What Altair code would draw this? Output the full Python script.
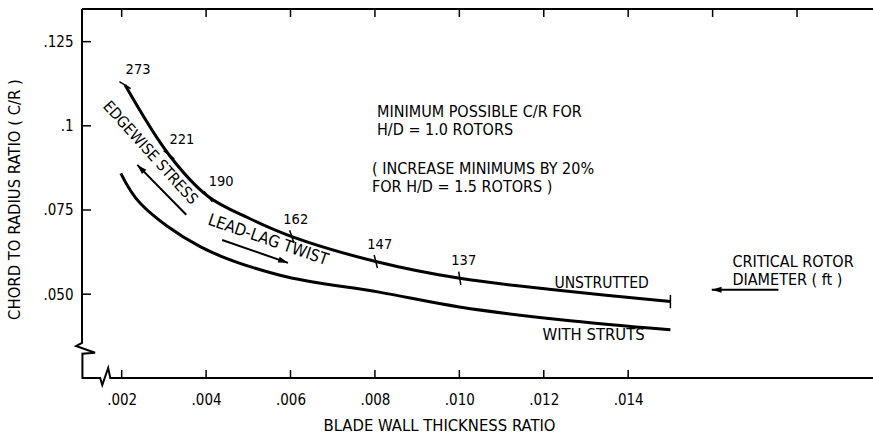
import altair as alt
import numpy as np
import pandas as pd

# ---- data -------------------------------------------------------------
# Minimum chord-to-radius ratio vs blade wall thickness ratio (H/D = 1.0)
unstrutted_x = [0.00208, 0.00312, 0.00405, 0.00504, 0.00603, 0.00802, 0.01001, 0.0124, 0.0150]
unstrutted_y = [0.1121, 0.0914, 0.0790, 0.0724, 0.0671, 0.0597, 0.0547, 0.0511, 0.0478]
struts_x = [0.00198, 0.00244, 0.00386, 0.00575, 0.0081, 0.0100, 0.0124, 0.0150]
struts_y = [0.0859, 0.0770, 0.0641, 0.0556, 0.0506, 0.0462, 0.0424, 0.0394]

# Critical rotor diameter (ft) marked on the unstrutted curve (index into curve)
diameter_labels = ["273", "221", "190", "162", "147", "137", ""]
diameter_index = [0, 1, 2, 4, 5, 6, 8]

x_ticks = [0.002, 0.004, 0.006, 0.008, 0.010, 0.012, 0.014]
x_top_ticks = [0.002, 0.004, 0.006, 0.008, 0.010, 0.012, 0.014, 0.016, 0.018]
y_ticks = [0.125, 0.1, 0.075, 0.050]

# axis frame with break symbols on the left and bottom
frame_x = [0.00106, 0.00106, 0.00092, 0.00137, 0.00107, 0.00107, 0.00149,
           0.00154, 0.00168, 0.00173, 0.0198]
frame_y = [0.1347, 0.0355, 0.0346, 0.0326, 0.0323, 0.0251, 0.0251,
           0.0230, 0.0281, 0.0251, 0.0251]

# ---- layout -----------------------------------------------------------
W, H = 791, 369
X_DOM = [0.00106, 0.0198]
Y_DOM = [0.0251, 0.1347]
FONT = "Liberation Sans Narrow, DejaVu Sans Condensed, Arial Narrow, sans-serif"
INK = "#000000"

xs = alt.Scale(domain=X_DOM, nice=False, zero=False)
ys = alt.Scale(domain=Y_DOM, nice=False, zero=False)

kx = W / (X_DOM[1] - X_DOM[0])
ky = H / (Y_DOM[1] - Y_DOM[0])

curves = pd.DataFrame({
    "x": unstrutted_x + struts_x,
    "y": unstrutted_y + struts_y,
    "series": ["UNSTRUTTED"] * len(unstrutted_x) + ["WITH STRUTS"] * len(struts_x),
    "i": list(range(len(unstrutted_x))) + list(range(len(struts_x))),
})

# tick marks across the unstrutted curve, drawn perpendicular to it
ux = np.array(unstrutted_x)
uy = np.array(unstrutted_y)
sdx = np.gradient(ux) * kx
sdy = -np.gradient(uy) * ky
phi = np.degrees(np.arctan2(-sdy, sdx)) % 360
marks = pd.DataFrame({
    "x": ux[diameter_index],
    "y": uy[diameter_index],
    "label": diameter_labels,
    "angle": phi[diameter_index],
})
marks.loc[marks.index[-1], "angle"] = 0.0

frame = pd.DataFrame({"x": frame_x, "y": frame_y, "o": range(len(frame_x))})

base = alt.Chart(curves)

x_axis = alt.Axis(
    values=x_ticks, grid=False, domain=False, ticks=False,
    labelExpr="substring(format(datum.value, '.3f'), 1)",
    labelFont=FONT, labelFontSize=15, labelColor=INK, labelPadding=14,
    title="BLADE WALL THICKNESS RATIO", titleFont=FONT, titleFontSize=16.5,
    titleFontWeight="normal", titleColor=INK, titleX=357, titleY=47,
    titleAlign="center", titleBaseline="middle",
)
y_axis = alt.Axis(
    values=y_ticks, grid=False, domain=False, ticks=False,
    labelExpr="abs(datum.value - 0.1) < 1e-6 ? '.1' : substring(format(datum.value, '.3f'), 1)",
    labelFont=FONT, labelFontSize=15, labelColor=INK, labelPadding=9,
    title="CHORD TO RADIUS RATIO ( C/R )", titleFont=FONT, titleFontSize=16.5,
    titleFontWeight="normal", titleColor=INK, titleX=-68, titleY=190,
    titleAngle=270, titleAlign="center", titleBaseline="middle",
)

lines = base.mark_line(color=INK, strokeWidth=3, interpolate="catmull-rom").encode(
    x=alt.X("x:Q", scale=xs, axis=x_axis),
    y=alt.Y("y:Q", scale=ys, axis=y_axis),
    detail="series:N",
    order="i:Q",
)

frame_line = alt.Chart(frame).mark_line(color=INK, strokeWidth=2).encode(
    x=alt.X("x:Q", scale=xs), y=alt.Y("y:Q", scale=ys), order="o:Q"
)
top_line = alt.Chart(pd.DataFrame({"a": [0]})).mark_rule(color=INK, strokeWidth=2).encode(
    x=alt.value(0), x2=alt.value(W), y=alt.value(0)
)
top_ticks = alt.Chart(pd.DataFrame({"x": x_top_ticks})).mark_rule(color=INK, strokeWidth=1.5).encode(
    x=alt.X("x:Q", scale=xs), y=alt.value(0), y2=alt.value(8)
)
bottom_ticks = alt.Chart(pd.DataFrame({"x": x_ticks})).mark_rule(color=INK, strokeWidth=1.5).encode(
    x=alt.X("x:Q", scale=xs), y=alt.value(H), y2=alt.value(H - 8)
)
left_ticks = alt.Chart(pd.DataFrame({"y": y_ticks})).mark_rule(color=INK, strokeWidth=1.5).encode(
    y=alt.Y("y:Q", scale=ys), x=alt.value(0), x2=alt.value(9)
)

tick_marks = alt.Chart(marks).mark_point(
    shape="M0,-1L0,1", size=180, color=INK, strokeWidth=1.5, filled=False, opacity=1
).encode(
    x=alt.X("x:Q", scale=xs), y=alt.Y("y:Q", scale=ys), angle=alt.Angle("angle:Q", scale=None)
)
steep = marks.iloc[:3]
flat = marks.iloc[3:6]
steep_labels = alt.Chart(steep).mark_text(
    font=FONT, fontSize=14.5, color=INK, dx=13, dy=-15
).encode(x=alt.X("x:Q", scale=xs), y=alt.Y("y:Q", scale=ys), text="label:N")
flat_labels = alt.Chart(flat).mark_text(
    font=FONT, fontSize=14.5, color=INK, dx=4, dy=-17
).encode(x=alt.X("x:Q", scale=xs), y=alt.Y("y:Q", scale=ys), text="label:N")


def note(text, x, y, align="left", angle=0, size=16):
    return alt.Chart(pd.DataFrame({"x": [x], "y": [y], "t": [text]})).mark_text(
        font=FONT, fontSize=size, color=INK, align=align, baseline="middle", angle=angle
    ).encode(x=alt.X("x:Q", scale=xs), y=alt.Y("y:Q", scale=ys), text="t:N")


def arrow(x0, y0, x1, y1, head_angle):
    seg = pd.DataFrame({"x": [x0, x1], "y": [y0, y1], "o": [0, 1]})
    shaft = alt.Chart(seg).mark_line(color=INK, strokeWidth=2).encode(
        x=alt.X("x:Q", scale=xs), y=alt.Y("y:Q", scale=ys), order="o:Q"
    )
    head = alt.Chart(pd.DataFrame({"x": [x1], "y": [y1]})).mark_point(
        shape="M0,0L0.5,1.6L-0.5,1.6Z", size=150, filled=True, color=INK,
        opacity=1, angle=head_angle
    ).encode(x=alt.X("x:Q", scale=xs), y=alt.Y("y:Q", scale=ys))
    return shaft + head


notes = [
    note("MINIMUM POSSIBLE C/R FOR", 0.00805, 0.1041),
    note("H/D = 1.0 ROTORS", 0.00805, 0.0988),
    note("( INCREASE MINIMUMS BY 20%", 0.00793, 0.0872),
    note(" FOR H/D = 1.5 ROTORS )", 0.00793, 0.0818),
    note("UNSTRUTTED", 0.01337, 0.0534, align="center", size=15.5),
    note("WITH STRUTS", 0.01318, 0.0379, align="center", size=16.5),
    note("CRITICAL ROTOR", 0.01647, 0.0596),
    note("DIAMETER ( ft )", 0.01647, 0.0542),
    note("EDGEWISE STRESS", 0.00268, 0.0920, align="center", angle=48, size=15.5),
    note("LEAD-LAG TWIST", 0.00547, 0.0661, align="center", angle=19, size=16.5),
]

arrows = [
    arrow(0.00353, 0.0736, 0.00237, 0.0884, 315),
    arrow(0.00438, 0.0661, 0.00594, 0.0593, 109),
    arrow(0.01756, 0.0513, 0.01598, 0.0513, 270),
]

chart = alt.layer(
    lines, frame_line, top_line, top_ticks, bottom_ticks, left_ticks,
    tick_marks, steep_labels, flat_labels, *notes, *arrows
).properties(
    width=W, height=H,
    autosize=alt.AutoSizeParams(type="none"),
    padding={"left": 82, "top": 9, "right": 0, "bottom": 60},
    background="white",
).configure_view(stroke=None)

chart.save("out.html", embed_options={"renderer": "svg", "actions": False})
